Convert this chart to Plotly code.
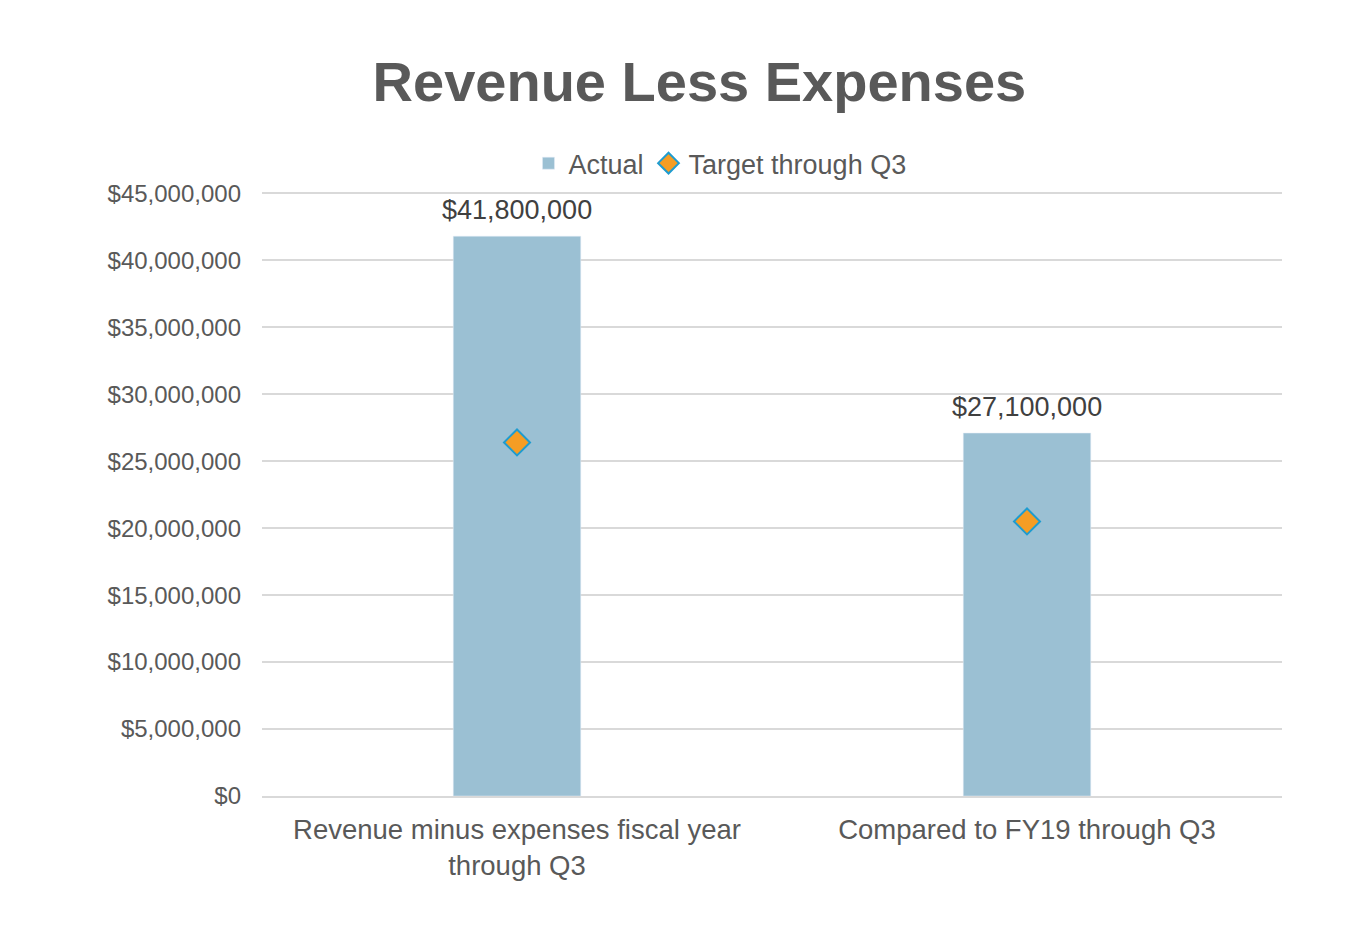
import plotly.graph_objects as go

categories = ["Revenue minus expenses fiscal year<br>through Q3", "Compared to FY19 through Q3"]
actual = [41800000, 27100000]
target = [26400000, 20500000]
tick_vals = [0, 5000000, 10000000, 15000000, 20000000, 25000000, 30000000, 35000000, 40000000, 45000000]
tick_text = ["$0", "$5,000,000", "$10,000,000", "$15,000,000", "$20,000,000", "$25,000,000",
             "$30,000,000", "$35,000,000", "$40,000,000", "$45,000,000"]

font = "Liberation Sans, Arial, sans-serif"

fig = go.Figure()
fig.add_trace(go.Bar(
    x=categories, y=actual, name="Actual",
    marker=dict(color="#9BC0D3"), width=0.25,
))
fig.add_trace(go.Scatter(
    x=categories, y=target, name="Target through Q3", mode="markers",
    marker=dict(symbol="diamond", size=20, color="#F59D24", line=dict(color="#1E9CD0", width=2)),
))
for c, v in zip(categories, actual):
    fig.add_annotation(x=c, y=v, text="$" + format(v, ","), showarrow=False,
                       yanchor="bottom", yshift=9,
                       font=dict(size=27, color="#404040", family=font))

fig.update_layout(
    width=1366, height=928,
    paper_bgcolor="white", plot_bgcolor="white",
    margin=dict(l=262, r=84, t=192, b=132),
    title=dict(text="<b>Revenue Less Expenses</b>", x=0.512, xanchor="center", y=0.912, yanchor="middle",
               font=dict(size=56, color="#595959", family=font)),
    legend=dict(orientation="h", x=0.449, xanchor="center", y=1.047, yanchor="middle",
                font=dict(size=27, color="#595959", family=font), itemwidth=30, traceorder="normal"),
    bargap=0.75,
    showlegend=True,
)
fig.update_xaxes(showgrid=False, showline=True, linecolor="#D9D9D9", linewidth=1.5,
                 tickfont=dict(size=27.5, color="#595959", family=font), ticks="", ticklabelstandoff=8)
fig.update_yaxes(range=[0, 45100000], tickvals=tick_vals, ticktext=tick_text,
                 showgrid=True, gridcolor="#D9D9D9", gridwidth=1.5, zeroline=False,
                 tickfont=dict(size=24, color="#595959", family=font), ticks="", ticklabelstandoff=20)

fig.write_html("out.html")
